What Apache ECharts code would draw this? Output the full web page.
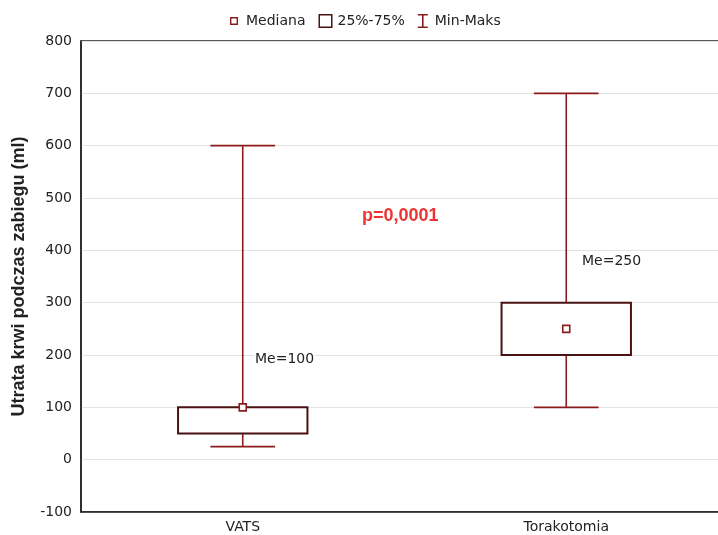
<!DOCTYPE html>
<html>
<head>
<meta charset="utf-8">
<script src="https://cdn.jsdelivr.net/npm/echarts@6/dist/echarts.min.js"></script>
<style>
  html, body { margin: 0; padding: 0; background: #fff; }
  #chart { width: 718px; height: 535px; }
</style>
</head>
<body>
<div id="chart"></div>
<script>
// dane
var categories = ['VATS', 'Torakotomia'];
var minVals = [25, 100];
var q1Vals = [50, 200];
var medianVals = [100, 250];
var q3Vals = [100, 300];
var maxVals = [600, 700];
var yTicks = { min: -100, max: 800, interval: 100 };

var boxColor = '#4a1212';
var whiskerColor = '#8c1c1c';
var font = 'DejaVu Sans, sans-serif';

var boxData = categories.map(function (c, i) { return [i, q1Vals[i], q3Vals[i]]; });
var whiskerData = categories.map(function (c, i) { return [i, minVals[i], maxVals[i]]; });
var medianData = categories.map(function (c, i) { return [i, medianVals[i]]; });

var chart = echarts.init(document.getElementById('chart'));

var option = {
  backgroundColor: '#fff',
  animation: false,
  textStyle: { fontFamily: font },
  legend: {
    top: 9,
    left: 222,
    itemGap: 13,
    itemWidth: 14,
    itemHeight: 14,
    textStyle: { fontSize: 14, color: '#222', fontFamily: font },
    data: [
      // drobne narożniki trzymają rozmiar ikony, kwadracik mniejszy
      { name: 'Mediana', icon: 'path://M0,0H0.001V0.001H0Z M13.999,13.999H14V14H13.999Z M3,3H11V11H3Z M4.4,4.4V9.6H9.6V4.4Z', itemStyle: { color: whiskerColor, borderWidth: 0 } },
      { name: '25%-75%', icon: 'path://M0,0H14V14H0Z M1.5,1.5V12.5H12.5V1.5Z', itemStyle: { color: boxColor, borderWidth: 0 } },
      { name: 'Min-Maks', icon: 'path://M2,0H12V1.6H7.8V12.4H12V14H2V12.4H6.2V1.6H2Z', itemStyle: { color: whiskerColor, borderWidth: 0 } }
    ]
  },
  grid: {
    left: 81,
    right: -10,
    top: 41,
    bottom: 23,
    outerBoundsMode: 'none',
    containLabel: false,
    show: true,
    borderColor: '#222',
    borderWidth: 1.5,
    backgroundColor: '#fff'
  },
  xAxis: {
    type: 'category',
    data: categories,
    axisLine: { onZero: false, lineStyle: { color: '#222', width: 1.5 } },
    axisTick: { show: false },
    axisLabel: { fontSize: 14, color: '#222', margin: 8, fontFamily: font }
  },
  yAxis: {
    type: 'value',
    min: yTicks.min,
    max: yTicks.max,
    interval: yTicks.interval,
    name: 'Utrata krwi podczas zabiegu (ml)',
    nameLocation: 'middle',
    nameGap: 53,
    nameTextStyle: { fontSize: 18, fontWeight: 'bold', color: '#222', fontFamily: 'Liberation Sans, Arial, sans-serif' },
    axisLine: { show: true, lineStyle: { color: '#222', width: 1.5 } },
    axisTick: { show: false },
    axisLabel: { fontSize: 14, color: '#222', margin: 9, fontFamily: font },
    splitLine: { lineStyle: { color: '#e2e2e2', width: 1 } }
  },
  series: [
    {
      name: 'Min-Maks',
      type: 'custom',
      z: 2,
      data: whiskerData,
      renderItem: function (params, api) {
        var lo = api.coord([api.value(0), api.value(1)]);
        var hi = api.coord([api.value(0), api.value(2)]);
        var half = api.size([1, 0])[0] * 0.1;
        var st = { stroke: whiskerColor, lineWidth: 1.6 };
        return {
          type: 'group',
          children: [
            { type: 'line', shape: { x1: lo[0], y1: lo[1], x2: hi[0], y2: hi[1] }, style: st },
            { type: 'line', shape: { x1: lo[0] - half, y1: lo[1], x2: lo[0] + half, y2: lo[1] }, style: st },
            { type: 'line', shape: { x1: hi[0] - half, y1: hi[1], x2: hi[0] + half, y2: hi[1] }, style: st }
          ]
        };
      }
    },
    {
      name: '25%-75%',
      type: 'custom',
      z: 3,
      data: boxData,
      renderItem: function (params, api) {
        var lo = api.coord([api.value(0), api.value(1)]);
        var hi = api.coord([api.value(0), api.value(2)]);
        var w = api.size([1, 0])[0] * 0.4;
        return {
          type: 'rect',
          shape: { x: lo[0] - w / 2, y: hi[1], width: w, height: lo[1] - hi[1] },
          style: { fill: '#fff', stroke: boxColor, lineWidth: 2 }
        };
      }
    },
    {
      name: 'Mediana',
      type: 'scatter',
      z: 4,
      symbol: 'rect',
      symbolSize: 7,
      itemStyle: { color: '#fff', borderColor: whiskerColor, borderWidth: 1.6, opacity: 1 },
      data: medianData
    }
  ],
  graphic: [
    { type: 'text', left: 254, top: 351, z: 10, style: { text: 'Me=100', fill: '#222', font: '14px DejaVu Sans', backgroundColor: '#fff', padding: [1, 1] } },
    { type: 'text', left: 581, top: 253, z: 10, style: { text: 'Me=250', fill: '#222', font: '14px DejaVu Sans', backgroundColor: '#fff', padding: [1, 1] } },
    { type: 'text', left: 362, top: 207, z: 10, style: { text: 'p=0,0001', fill: '#ee3333', font: 'bold 18px Liberation Sans' } }
  ]
};

chart.setOption(option);
</script>
</body>
</html>
